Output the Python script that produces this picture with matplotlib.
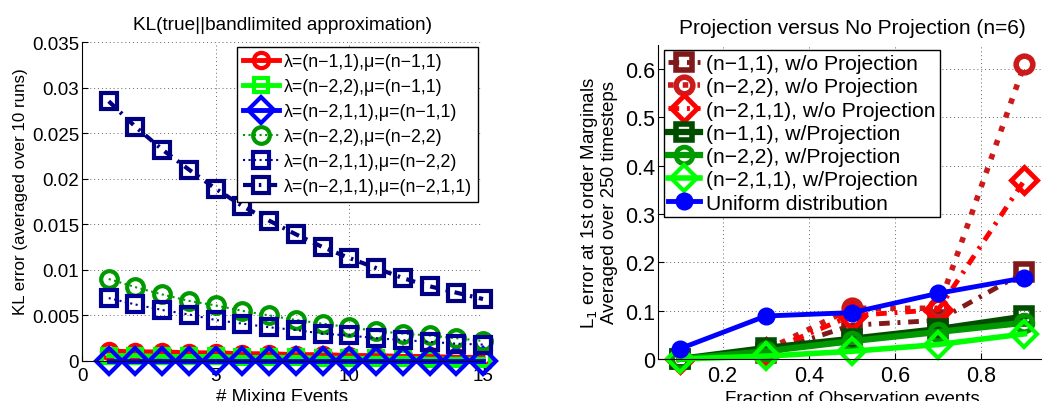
import matplotlib
matplotlib.use("Agg")
import matplotlib.pyplot as plt

plt.rcParams["font.family"] = ["Liberation Sans", "DejaVu Sans"]
plt.rcParams["axes.unicode_minus"] = True

# left panel: KL error vs number of mixing events
mixing_events = list(range(1, 16))
kl_a = [0.0011, 0.0010, 0.0010, 0.0009, 0.0009, 0.0008, 0.0008, 0.0007,
        0.0007, 0.0006, 0.0006, 0.0005, 0.0005, 0.0004, 0.0004]
kl_b = [0.0006, 0.0006, 0.0005, 0.0005, 0.0005, 0.0004, 0.0004, 0.0004,
        0.0003, 0.0003, 0.0003, 0.0003, 0.0002, 0.0002, 0.0002]
kl_c = [0.0, 0.0, 0.0, 0.0, 0.0, 0.0, 0.0, 0.0,
        0.0, 0.0, 0.0, 0.0, 0.0, 0.0, 0.0]
kl_d = [0.0090, 0.0081, 0.0073, 0.0066, 0.0061, 0.0055, 0.0050, 0.0045,
        0.0041, 0.0037, 0.0033, 0.0030, 0.0028, 0.0025, 0.0022]
kl_e = [0.0069, 0.0062, 0.0056, 0.0051, 0.0045, 0.0041, 0.0037, 0.0034,
        0.0030, 0.0028, 0.0025, 0.0023, 0.0021, 0.0019, 0.0018]
kl_f = [0.0285, 0.0257, 0.0232, 0.0210, 0.0189, 0.0170, 0.0154, 0.0139,
        0.0125, 0.0113, 0.0102, 0.0091, 0.0082, 0.0075, 0.0068]
kl_labels = ["λ=(n−1,1),μ=(n−1,1)", "λ=(n−2,2),μ=(n−1,1)", "λ=(n−2,1,1),μ=(n−1,1)",
             "λ=(n−2,2),μ=(n−2,2)", "λ=(n−2,1,1),μ=(n−2,2)", "λ=(n−2,1,1),μ=(n−2,1,1)"]
kl_yticks = [0, 0.005, 0.01, 0.015, 0.02, 0.025, 0.03, 0.035]
kl_yticklabels = ["0", "0.005", "0.01", "0.015", "0.02", "0.025", "0.03", "0.035"]
kl_xticks = [0, 5, 10, 15]

# right panel: L1 error vs fraction of observation events
obs_fraction = [0.1, 0.3, 0.5, 0.7, 0.9]
wo_n11 = [0.0, 0.012, 0.070, 0.080, 0.180]
wo_n22 = [0.0, 0.018, 0.105, 0.105, 0.610]
wo_n211 = [0.0, 0.015, 0.090, 0.102, 0.370]
w_n11 = [0.0, 0.023, 0.042, 0.062, 0.088]
w_n22 = [0.0, 0.016, 0.037, 0.056, 0.075]
w_n211 = [0.0, 0.006, 0.016, 0.030, 0.052]
uniform = [0.021, 0.089, 0.096, 0.136, 0.168]
l1_yticks = [0, 0.1, 0.2, 0.3, 0.4, 0.5, 0.6]
l1_yticklabels = ["0", "0.1", "0.2", "0.3", "0.4", "0.5", "0.6"]
l1_xticks = [0.2, 0.4, 0.6, 0.8]


def style_axes(ax, fontsize):
    ax.spines["top"].set_visible(False)
    ax.spines["right"].set_visible(False)
    ax.grid(True, linestyle=(0, (1, 3)), color="#666666", linewidth=0.7)
    ax.set_axisbelow(True)
    ax.tick_params(direction="in", length=4, pad=2, labelsize=fontsize)
    ax.tick_params(axis="x", pad=4)


def frame_legend(leg):
    leg.get_frame().set_edgecolor("black")
    leg.get_frame().set_linewidth(1.0)


fig = plt.figure(figsize=(10.42, 4.02), dpi=100)

# ---- left ----
ax1 = fig.add_axes([82 / 1042, 40 / 402, 401 / 1042, 319 / 402])
style_axes(ax1, 13.5)
kw = dict(clip_on=False, markerfacecolor="none")
dashdot = (0, (2.2, 1.6, 0.6, 1.6))
ax1.plot(mixing_events, kl_a, "-", color="#ff0000", lw=3.5, marker="o", ms=11, mew=3, label=kl_labels[0], **kw)
ax1.plot(mixing_events, kl_b, "-", color="#00ff00", lw=3.5, marker="s", ms=10, mew=3, label=kl_labels[1], **kw)
ax1.plot(mixing_events, kl_c, "-", color="#0000ff", lw=3.5, marker="D", ms=13, mew=3, label=kl_labels[2], **kw)
ax1.plot(mixing_events, kl_d, ":", color="#009900", lw=1.5, marker="o", ms=12, mew=3, label=kl_labels[3], **kw)
ax1.plot(mixing_events, kl_e, ":", color="#000099", lw=1.5, marker="s", ms=11, mew=3, label=kl_labels[4], **kw)
ax1.plot(mixing_events, kl_f, linestyle=dashdot, color="#000080", lw=3, marker="s", ms=11, mew=3,
         label=kl_labels[5], **kw)
ax1.set_xlim(0, 15)
ax1.set_ylim(0, 0.035)
ax1.set_xticks(kl_xticks)
ax1.set_yticks(kl_yticks)
ax1.set_yticklabels(kl_yticklabels)
ax1.set_title("KL(true||bandlimited approximation)", fontsize=13.7, pad=9)
ax1.set_xlabel("# Mixing Events", fontsize=13.5, labelpad=3)
ax1.set_ylabel("KL error (averaged over 10 runs)", fontsize=12.2)
ax1.yaxis.set_label_coords(-0.135, 0.535)
leg1 = ax1.legend(loc="upper right", bbox_to_anchor=(0.988, 0.984), fontsize=12.8,
                  handlelength=2.0, handletextpad=0.3, labelspacing=0.45,
                  borderpad=0.35, borderaxespad=0, fancybox=False, framealpha=1)
frame_legend(leg1)

# ---- right ----
ax2 = fig.add_axes([658 / 1042, 42 / 402, 388 / 1042, 314 / 402])
style_axes(ax2, 15.5)
ax2.plot(obs_fraction, wo_n11, linestyle=dashdot, color="#801a1a", lw=3.5, marker="s", ms=11, mew=4,
         label="(n−1,1), w/o Projection", **kw)
ax2.plot(obs_fraction, wo_n22, ":", color="#cc1a1a", lw=4, marker="o", ms=12, mew=4,
         label="(n−2,2), w/o Projection", **kw)
ax2.plot(obs_fraction, wo_n211, linestyle=dashdot, color="#ff0000", lw=3.5, marker="D", ms=13, mew=3.5,
         label="(n−2,1,1), w/o Projection", **kw)
ax2.plot(obs_fraction, w_n11, "-", color="#004d00", lw=4.5, marker="s", ms=12, mew=4,
         label="(n−1,1), w/Projection", **kw)
ax2.plot(obs_fraction, w_n22, "-", color="#009900", lw=4.5, marker="o", ms=12, mew=3.5,
         label="(n−2,2), w/Projection", **kw)
ax2.plot(obs_fraction, w_n211, "-", color="#00ff00", lw=4, marker="D", ms=13, mew=3,
         label="(n−2,1,1), w/Projection", **kw)
ax2.plot(obs_fraction, uniform, "-", color="#0000ff", lw=3.5, marker="o", ms=12,
         markerfacecolor="#0000ff", clip_on=False, label="Uniform distribution")
ax2.set_xlim(0.05, 0.95)
ax2.set_ylim(0, 0.65)
ax2.set_xticks(l1_xticks)
ax2.set_yticks(l1_yticks)
ax2.set_yticklabels(l1_yticklabels)
ax2.set_title("Projection versus No Projection (n=6)", fontsize=15, pad=9)
ax2.set_xlabel("Fraction of Observation events", fontsize=13.5, labelpad=3)
ax2.set_ylabel("L$_1$ error at 1st order Marginals\nAveraged over 250 timesteps",
               fontsize=13.5, labelpad=5, linespacing=1.1)
leg2 = ax2.legend(loc="upper left", bbox_to_anchor=(0.0155, 0.984), fontsize=15.2,
                  handlelength=1.5, handletextpad=0.3, labelspacing=0.2,
                  borderpad=0.2, borderaxespad=0, fancybox=False, framealpha=1)
frame_legend(leg2)

fig.savefig("out.png", dpi=100)
